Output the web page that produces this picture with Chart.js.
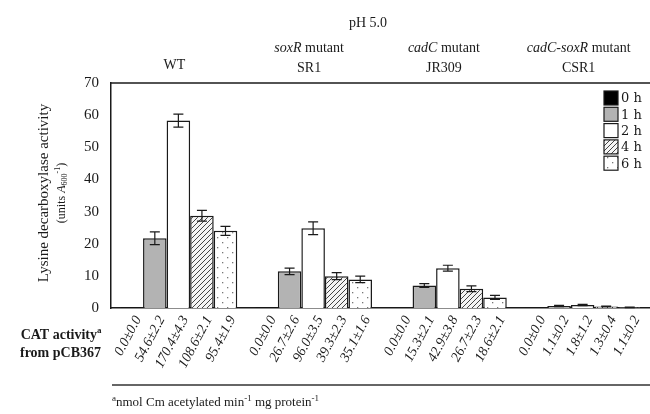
<!DOCTYPE html>
<html>
<head>
<meta charset="utf-8">
<script src="https://cdn.jsdelivr.net/npm/chart.js@4.4.1/dist/chart.umd.min.js"></script>
<style>
  html, body { margin: 0; padding: 0; background: #fff; }
  #wrap { width: 650px; height: 414px; position: relative; }
</style>
</head>
<body>
<div id="wrap"><canvas id="chartLdc"></canvas></div>
<script>
// strains (categories)
const strains = ['WT', 'SR1', 'JR309', 'CSR1'];
const genotypes = ['', 'soxR', 'cadC', 'cadC-soxR'];
const timeLabels = ['0 h', '1 h', '2 h', '4 h', '6 h'];

// lysine decarboxylase activity (units A600^-1), one array per time point
const act0h = [0.2, 0.2, 0.1, 0.1];
const act1h = [21.7, 11.4, 7.0, 0.6];
const act2h = [58.3, 24.8, 12.4, 0.9];
const act4h = [28.7, 9.9, 6.0, 0.5];
const act6h = [24.0, 8.9, 3.3, 0.2];

const err0h = [0, 0, 0, 0];
const err1h = [2.0, 1.0, 0.6, 0.2];
const err2h = [2.0, 2.0, 0.9, 0.2];
const err4h = [1.7, 1.1, 0.9, 0.1];
const err6h = [1.4, 1.0, 0.6, 0.1];

// CAT activity from pCB367
const cat0h = ['0.0±0.0', '0.0±0.0', '0.0±0.0', '0.0±0.0'];
const cat1h = ['54.6±2.2', '26.7±2.6', '15.3±2.1', '1.1±0.2'];
const cat2h = ['170.4±4.3', '96.0±3.5', '42.9±3.8', '1.8±1.2'];
const cat4h = ['108.6±2.1', '39.3±2.3', '26.7±2.3', '1.3±0.4'];
const cat6h = ['95.4±1.9', '35.1±1.6', '18.6±2.1', '1.1±0.2'];

const yTicks = [0, 10, 20, 30, 40, 50, 60, 70];

const SERIF = "'Liberation Serif', 'DejaVu Serif', serif";
const INK = '#1a1a1a';

function hatch() {
    const c = document.createElement('canvas');
    c.width = 5; c.height = 5;
    const g = c.getContext('2d');
    g.fillStyle = '#f4f4f4';
    g.fillRect(0, 0, 5, 5);
    g.strokeStyle = '#444';
    g.lineWidth = 1;
    g.beginPath();
    g.moveTo(-1, 6); g.lineTo(6, -1);
    g.moveTo(-1, 1); g.lineTo(1, -1);
    g.moveTo(4, 6); g.lineTo(6, 4);
    g.stroke();
    return g.createPattern(c, 'repeat');
}

function dots() {
    const c = document.createElement('canvas');
    c.width = 10; c.height = 10;
    const g = c.getContext('2d');
    g.fillStyle = '#fff';
    g.fillRect(0, 0, 10, 10);
    g.fillStyle = '#777';
    g.fillRect(2, 2, 1.3, 1.3);
    g.fillRect(7, 7, 1.3, 1.3);
    return g.createPattern(c, 'repeat');
}

const fills = ['#000', '#b3b3b3', '#fff', hatch(), dots()];
const acts = [act0h, act1h, act2h, act4h, act6h];
const errs = [err0h, err1h, err2h, err4h, err6h];
const cats = [cat0h, cat1h, cat2h, cat4h, cat6h];

// draws runs of [text, style] pieces; style: '' | 'i' | 'sup' | 'sub'
function runs(ctx, parts, x, y, size, align) {
    const fontFor = function (st) {
        const s = (st === 'sup' || st === 'sub') ? Math.round(size * 0.7) : size;
        return (st === 'i' ? 'italic ' : '') + s + 'px ' + SERIF;
    };
    let w = 0;
    parts.forEach(function (p) { ctx.font = fontFor(p[1]); w += ctx.measureText(p[0]).width; });
    let cx = align === 'center' ? x - w / 2 : (align === 'right' ? x - w : x);
    ctx.textAlign = 'left';
    parts.forEach(function (p) {
        ctx.font = fontFor(p[1]);
        let dy = 0;
        if (p[1] === 'sup') dy = -size * 0.35;
        if (p[1] === 'sub') dy = size * 0.25;
        ctx.fillText(p[0], cx, y + dy);
        cx += ctx.measureText(p[0]).width;
    });
}

const decor = {
    id: 'decor',
    afterDatasetsDraw: function (chart) {
        const ctx = chart.ctx;
        const xs = chart.scales.x, ys = chart.scales.y;
        const area = chart.chartArea;
        ctx.save();

        // error bars
        ctx.strokeStyle = INK;
        ctx.lineWidth = 1.2;
        chart.data.datasets.forEach(function (ds, i) {
            chart.getDatasetMeta(i).data.forEach(function (bar, j) {
                const e = errs[i][j];
                if (!e) return;
                const v = ds.data[j];
                const t = ys.getPixelForValue(v + e), b = ys.getPixelForValue(v - e);
                ctx.beginPath();
                ctx.moveTo(bar.x, t); ctx.lineTo(bar.x, b);
                ctx.moveTo(bar.x - 5, t); ctx.lineTo(bar.x + 5, t);
                ctx.moveTo(bar.x - 5, b); ctx.lineTo(bar.x + 5, b);
                ctx.stroke();
            });
        });

        // top frame line
        ctx.lineWidth = 1.5;
        ctx.beginPath();
        ctx.moveTo(area.left, area.top); ctx.lineTo(area.right, area.top);
        ctx.stroke();

        ctx.fillStyle = INK;
        ctx.textBaseline = 'middle';

        // header
        runs(ctx, [['pH 5.0', '']], 368, 23, 14, 'center');
        strains.forEach(function (s, j) {
            const cx = xs.getPixelForValue(j) - 4;
            if (!genotypes[j]) {
                runs(ctx, [[s, '']], cx, 65, 14, 'center');
            } else {
                runs(ctx, [[genotypes[j], 'i'], [' mutant', '']], cx, 48, 14, 'center');
                runs(ctx, [[s, '']], cx, 68, 14, 'center');
            }
        });

        // y title
        ctx.save();
        ctx.translate(44, 193);
        ctx.rotate(-Math.PI / 2);
        runs(ctx, [['Lysine decarboxylase activity', '']], 0, 0, 15, 'center');
        runs(ctx, [['(units ', ''], ['A', 'i'], ['600', 'sub'], ['-1', 'sup'], [')', '']], 0, 18, 12, 'center');
        ctx.restore();

        // legend
        timeLabels.forEach(function (lab, i) {
            const y = 98 + i * 16.3;
            ctx.fillStyle = fills[i];
            ctx.fillRect(604, y - 7, 14, 14);
            ctx.strokeStyle = INK;
            ctx.lineWidth = 1.2;
            ctx.strokeRect(604, y - 7, 14, 14);
            ctx.fillStyle = INK;
            ctx.font = "13px 'DejaVu Serif', serif";
            ctx.textAlign = 'left';
            ctx.fillText(lab, 621, y + 1);
        });

        // CAT activity row
        ctx.font = 'bold 14px ' + SERIF;
        ctx.textAlign = 'right';
        ctx.fillText('CAT activity', 97, 335);
        ctx.fillText('from pCB367', 101, 353);
        ctx.font = 'bold 9px ' + SERIF;
        ctx.textAlign = 'left';
        ctx.fillText('a', 97, 331);

        ctx.font = 'italic 14px ' + SERIF;
        ctx.textAlign = 'right';
        chart.data.datasets.forEach(function (ds, i) {
            chart.getDatasetMeta(i).data.forEach(function (bar, j) {
                ctx.save();
                ctx.translate(bar.x + 7, 317);
                ctx.rotate(-62 * Math.PI / 180);
                ctx.fillText(cats[i][j], 0, 0);
                ctx.restore();
            });
        });

        // footnote
        ctx.strokeStyle = '#333';
        ctx.lineWidth = 1.5;
        ctx.beginPath();
        ctx.moveTo(112, 385); ctx.lineTo(650, 385);
        ctx.stroke();
        runs(ctx, [['a', 'sup'], ['nmol Cm acetylated min', ''], ['-1', 'sup'], [' mg protein', ''], ['-1', 'sup']], 112, 403, 13, 'left');

        ctx.restore();
    }
};

new Chart(document.getElementById('chartLdc'), {
    type: 'bar',
    data: {
        labels: strains,
        datasets: timeLabels.map(function (lab, i) {
            return {
                label: lab,
                data: acts[i],
                backgroundColor: fills[i],
                borderColor: INK,
                borderWidth: 1.5,
                barPercentage: 1,
                categoryPercentage: 0.874,
            };
        }),
    },
    options: {
        responsive: true,
        maintainAspectRatio: false,
        animation: false,
        layout: { padding: { top: 83, right: 0, bottom: 0, left: 0 } },
        plugins: {
            legend: { display: false },
            title: { display: false },
            tooltip: { enabled: false },
        },
        scales: {
            x: {
                ticks: { display: false },
                grid: { display: false },
                border: { display: true, color: INK, width: 1.5 },
                afterFit: function (s) { s.height = 106; },
            },
            y: {
                min: 0,
                max: 70,
                afterBuildTicks: function (s) { s.ticks = yTicks.map(function (v) { return { value: v }; }); },
                ticks: { color: INK, padding: 12, font: { family: SERIF, size: 15 } },
                grid: { display: false, drawTicks: false },
                border: { display: true, color: INK, width: 1.5 },
                afterFit: function (s) { s.width = 111; },
            },
        },
    },
    plugins: [decor],
});
</script>
</body>
</html>
